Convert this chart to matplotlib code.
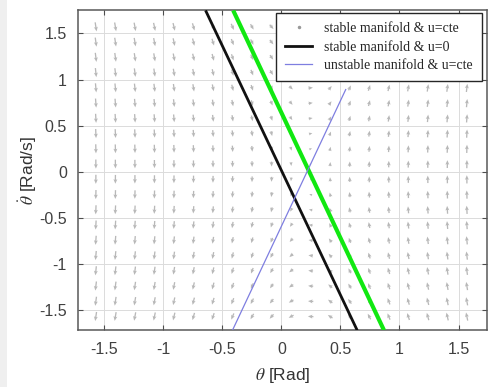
import numpy as np
import matplotlib
matplotlib.use("Agg")
import matplotlib.pyplot as plt
from matplotlib.lines import Line2D
from matplotlib.patches import Rectangle

plt.rcParams['font.family'] = ['Liberation Sans', 'DejaVu Sans']
plt.rcParams['mathtext.fontset'] = 'stix'

# ---- data ----
# line endpoints (theta [rad], theta_dot [rad/s])
stable_u0_theta = [-0.642, 0.642]
stable_u0_dtheta = [1.75, -1.72]
stable_cte_theta = [-0.408, 0.869]
stable_cte_dtheta = [1.75, -1.72]
unstable_cte_theta = [-0.414, 0.547]
unstable_cte_dtheta = [-1.72, 0.897]

# quiver grid and linearised saddle field (u = cte)
grid_theta = np.linspace(-np.pi / 2, np.pi / 2, 20)
grid_dtheta = np.linspace(-np.pi / 2, np.pi / 2, 20)
eq_theta = 0.23
lam_sq = 7.35

x_ticks = [-1.5, -1, -0.5, 0, 0.5, 1, 1.5]
y_ticks = [-1.5, -1, -0.5, 0, 0.5, 1, 1.5]
x_tick_labels = ['-1.5', '-1', '-0.5', '0', '0.5', '1', '1.5']
y_tick_labels = ['-1.5', '-1', '-0.5', '0', '0.5', '1', '1.5']

legend_labels = ['stable manifold & u=cte', 'stable manifold & u=0', 'unstable manifold & u=cte']

W, H = 490, 387
fig = plt.figure(figsize=(W / 100, H / 100), dpi=100)
fig.patches.append(Rectangle((0, 0), 7 / W, 1, transform=fig.transFigure,
                             facecolor='#efefef', edgecolor='none', zorder=0))

ax = fig.add_axes([78 / W, (H - 330) / H, (486.5 - 78) / W, 320 / H])

TH, DT = np.meshgrid(grid_theta, grid_dtheta)
U = DT
V = lam_sq * (TH - eq_theta)
mag = np.hypot(U, V)
k = mag ** 0.35 / np.where(mag == 0, 1, mag)
ax.quiver(TH, DT, U * k, V * k, angles='xy', scale_units='xy', scale=25,
          color='0.72', width=0.0032, headwidth=3, headlength=3.5,
          headaxislength=3, pivot='middle', zorder=2)

ax.plot(stable_cte_theta, stable_cte_dtheta, color='#11e811', lw=3.0, zorder=3,
        solid_capstyle='butt')
ax.plot(stable_u0_theta, stable_u0_dtheta, color='#111111', lw=2.0, zorder=4,
        solid_capstyle='butt')
ax.plot(unstable_cte_theta, unstable_cte_dtheta, color='#7e7ee0', lw=0.9, zorder=4,
        solid_capstyle='butt')

ax.set_xlim(-1.722, 1.737)
ax.set_ylim(-1.717, 1.754)
ax.set_xticks(x_ticks)
ax.set_xticklabels(x_tick_labels)
ax.set_yticks(y_ticks)
ax.set_yticklabels(y_tick_labels)
ax.tick_params(direction='in', length=3.5, width=0.8, colors='0.3', labelsize=11.5,
               labelcolor='0.25', top=True, right=True, pad=8)
ax.tick_params(axis='x', pad=9)
ax.grid(True, color='0.86', lw=0.7)
ax.set_axisbelow(True)
for s in ax.spines.values():
    s.set_color('0.35')
    s.set_linewidth(1.1)

ax.set_xlabel(r'$\theta$ [Rad]', fontsize=12.5, color='0.2', labelpad=6)
ax.set_ylabel(r'$\dot{\theta}$ [Rad/s]', fontsize=12.5, color='0.2', labelpad=0)

handles = [
    Line2D([], [], ls='none', marker='.', markersize=3, color='0.6'),
    Line2D([], [], color='#111111', lw=2.0),
    Line2D([], [], color='#7e7ee0', lw=0.9),
]
leg = ax.legend(handles, legend_labels, loc='upper right',
                bbox_to_anchor=(482 / W, 1 - 13 / H), bbox_transform=fig.transFigure,
                borderaxespad=0, fancybox=False, framealpha=1, edgecolor='0.15',
                prop={'family': 'Liberation Serif', 'size': 10},
                handlelength=1.9, handletextpad=0.9, labelspacing=0.4,
                borderpad=0.65, numpoints=1)
leg.get_frame().set_linewidth(1.0)
for t in leg.get_texts():
    t.set_color('0.15')

fig.savefig('out.png', dpi=100)
